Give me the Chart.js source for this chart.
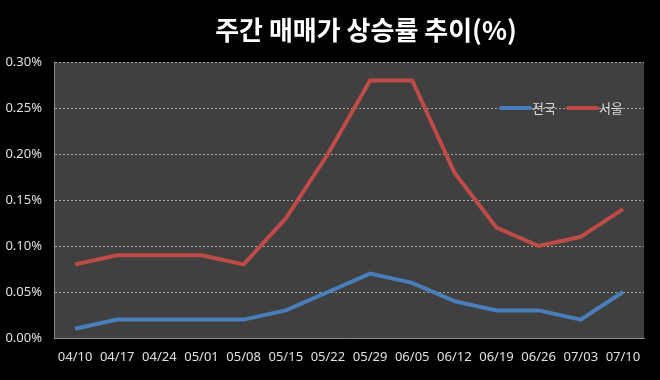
<!DOCTYPE html>
<html><head><meta charset="utf-8">
<script src="https://cdn.jsdelivr.net/npm/chart.js@4"></script>
<style>html,body{margin:0;padding:0;background:#000;}#wrap{width:660px;height:380px;position:relative;}</style>
</head><body><div id="wrap"><canvas id="c" width="660" height="380"></canvas></div>
<script>
const TITLE = '주간 매매가 상승률 추이(%)';
const categories = ['04/10','04/17','04/24','05/01','05/08','05/15','05/22','05/29','06/05','06/12','06/19','06/26','07/03','07/10'];
const nationLabel = '전국';
const seoulLabel = '서울';
const nation = [0.01,0.02,0.02,0.02,0.02,0.03,0.05,0.07,0.06,0.04,0.03,0.03,0.02,0.05];
const seoul  = [0.08,0.09,0.09,0.09,0.08,0.13,0.20,0.28,0.28,0.18,0.12,0.10,0.11,0.14];
const yTicks = [0,0.05,0.10,0.15,0.20,0.25,0.30];

const FONT = "'Noto Sans','Noto Sans CJK KR',sans-serif";
const KFONT = "'Noto Sans CJK KR','Noto Sans',sans-serif";

const bgPlugin = {
  id:'bg',
  beforeDraw(chart){
    const {ctx, chartArea:a} = chart;
    ctx.save();
    ctx.fillStyle='#000';
    ctx.fillRect(0,0,chart.width,chart.height);
    ctx.fillStyle='#404040';
    ctx.fillRect(a.left,a.top,a.right-a.left,a.bottom-a.top);
    ctx.restore();
  },
  afterDraw(chart){
    const {ctx} = chart;
    ctx.save();
    // title
    ctx.fillStyle='#ffffff';
    ctx.font = "bold 26px " + KFONT;
    ctx.textAlign='center';
    ctx.textBaseline='middle';
    ctx.fillText(TITLE, 366, 30);
    // legend
    const y = chart.scales.y.getPixelForValue(0.25);
    let x = 501;
    ctx.font = "13px " + KFONT;
    ctx.textAlign='left';
    chart.data.datasets.forEach(ds=>{
      ctx.strokeStyle = ds.borderColor;
      ctx.lineWidth = 4;
      ctx.lineCap='round';
      ctx.beginPath(); ctx.moveTo(x,y); ctx.lineTo(x+29,y); ctx.stroke();
      ctx.fillStyle='#d9d9d9';
      ctx.fillText(ds.label, x+31, y);
      x += 67;
    });
    ctx.restore();
  }
};

new Chart(document.getElementById('c'), {
  type:'line',
  data:{
    labels: categories,
    datasets:[
      {label:nationLabel, data:nation, borderColor:'#4a7ebb', borderWidth:4, pointRadius:0, tension:0, fill:false},
      {label:seoulLabel, data:seoul, borderColor:'#be4b48', borderWidth:4, pointRadius:0, tension:0, fill:false}
    ]
  },
  options:{
    responsive:false,
    animation:false,
    layout:{padding:{top:62,right:16,left:0,bottom:0}},
    plugins:{legend:{display:false}, title:{display:false}, tooltip:{enabled:false}},
    scales:{
      x:{
        offset:true,
        grid:{display:false, drawTicks:false},
        border:{display:true, color:'#8c8c8c', width:1},
        ticks:{color:'#e0e0e0', font:{family:FONT, size:13}, padding:11, maxRotation:0, autoSkip:false},
        afterFit(s){ s.height = 42; }
      },
      y:{
        min:0, max:0.30,
        afterBuildTicks(s){ s.ticks = yTicks.map(v=>({value:v})); },
        grid:{color:'#a6a6a6', drawTicks:false, lineWidth:1},
        border:{display:true, color:'#8c8c8c', dash:[2,2]},
        ticks:{color:'#e0e0e0', font:{family:FONT, size:13}, padding:12, callback:v=>v.toFixed(2)+'%'},
        afterFit(s){ s.width = 54; }
      }
    }
  },
  plugins:[bgPlugin]
});
</script>
</body></html>
